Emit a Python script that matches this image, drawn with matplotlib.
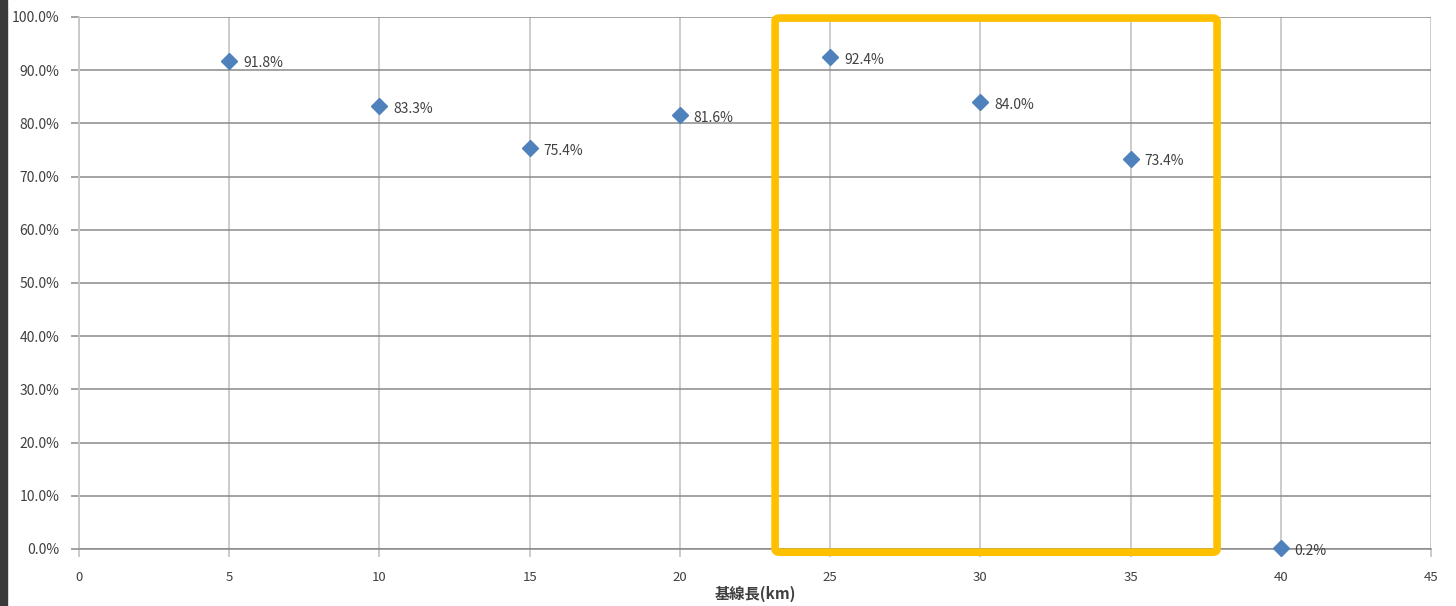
import matplotlib
matplotlib.use("Agg")
import matplotlib.pyplot as plt
from matplotlib.patches import FancyBboxPatch, Rectangle
from matplotlib.ticker import FuncFormatter

plt.rcParams['font.family'] = ['Noto Sans CJK JP', 'DejaVu Sans']

# datos
baseline_km = [5, 10, 15, 20, 25, 30, 35, 40]
rate_pct = [91.8, 83.3, 75.4, 81.6, 92.4, 84.0, 73.4, 0.2]
x_ticks = list(range(0, 50, 5))
y_ticks = list(range(0, 110, 10))
highlight_x = (23.17, 37.88)
highlight_y = (-0.6, 99.8)

fig = plt.figure(figsize=(14.56, 6.06), dpi=100)
ax = fig.add_axes([79 / 1456, 1 - 549 / 606, (1431 - 79) / 1456, (549 - 17) / 606])

ax.set_xlim(0, 45)
ax.set_ylim(0, 100)
ax.set_xticks(x_ticks)
ax.set_yticks(y_ticks)
ax.yaxis.set_major_formatter(FuncFormatter(lambda v, p: "%.1f%%" % v))

ax.grid(True, axis='x', color='#c8c8c8', lw=1.3)
ax.grid(True, axis='y', color='#8a8a8a', lw=1.1)
ax.set_axisbelow(True)
for s in ['top', 'right']:
    ax.spines[s].set_visible(False)
ax.spines['left'].set_color('#c8c8c8')
ax.spines['left'].set_linewidth(1.3)
ax.spines['bottom'].set_color('#8a8a8a')
ax.spines['bottom'].set_linewidth(1.1)
ax.tick_params(axis='x', length=6, color='#c8c8c8', width=1.3, pad=10,
               labelsize=9.5, labelcolor='#404040')
ax.tick_params(axis='y', length=6, color='#8a8a8a', width=1.1, pad=8,
               labelsize=10, labelcolor='#404040')

ax.plot(baseline_km, rate_pct, linestyle='none', marker='D', markersize=8,
        color='#4f81bd', clip_on=False, zorder=3)
for x, y in zip(baseline_km, rate_pct):
    ax.annotate("%.1f%%" % y, (x, y), xytext=(10, -2), textcoords='offset points',
                va='center', ha='left', fontsize=10, color='#404040')

# etiqueta del eje x
fig.text((79 + 1431) / 2 / 1456, 1 - 594 / 606, '基線長(km)', fontsize=11,
         fontweight='bold', color='#404040', ha='center', va='center')

# recuadro amarillo
box = FancyBboxPatch((highlight_x[0], highlight_y[0]),
                     highlight_x[1] - highlight_x[0], highlight_y[1] - highlight_y[0],
                     boxstyle='round,pad=0,rounding_size=0.15', fill=False,
                     edgecolor='#ffc000', lw=5.5, clip_on=False, zorder=4,
                     mutation_aspect=4)
ax.add_patch(box)

# borde oscuro a la izquierda
fig.patches.append(Rectangle((0, 0), 7 / 1456, 1, transform=fig.transFigure,
                             color='#3a3a3a', zorder=0))

fig.savefig('out.png', dpi=100)
